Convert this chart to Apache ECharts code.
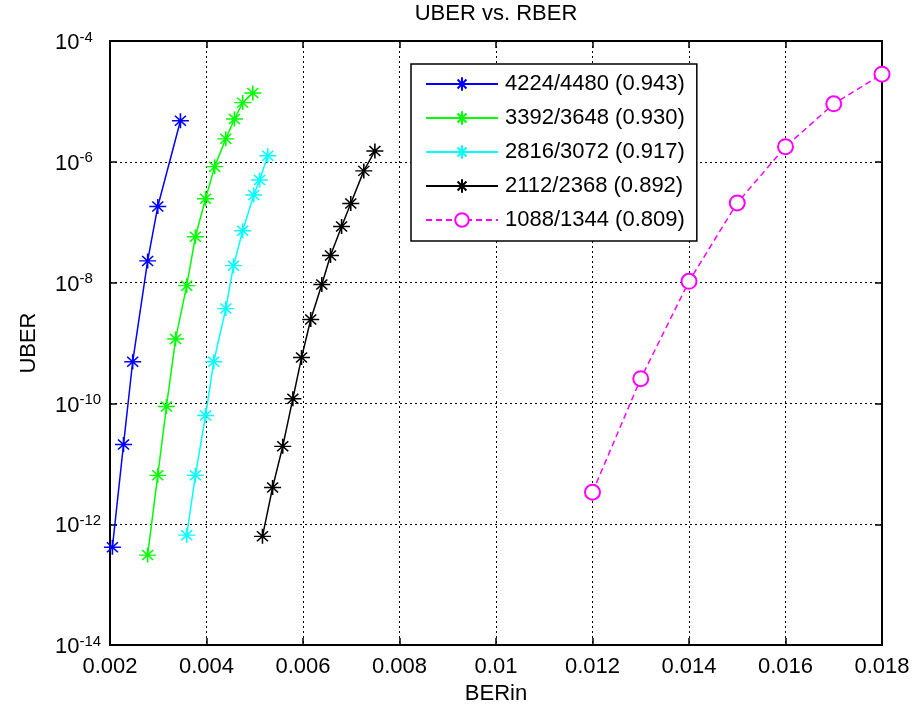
<!DOCTYPE html>
<html>
<head>
<meta charset="utf-8">
<script src="https://cdn.jsdelivr.net/npm/echarts@6/dist/echarts.min.js"></script>
<style>
html,body{margin:0;padding:0;background:#fff;}
#chart{width:914px;height:710px;}
</style>
</head>
<body>
<div id="chart"></div>
<script>
// ---- data ----
const seriesNames = ['4224/4480 (0.943)', '3392/3648 (0.930)', '2816/3072 (0.917)', '2112/2368 (0.892)', '1088/1344 (0.809)'];

const blueX = [0.00205, 0.00228, 0.00247, 0.00278, 0.00299, 0.00346];
const blueY = [4.17e-13, 2.09e-11, 4.9e-10, 2.29e-8, 1.82e-7, 4.79e-6];

const greenX = [0.00278, 0.00299, 0.00317, 0.00336, 0.00359, 0.00377, 0.00398, 0.00417, 0.0044, 0.00458, 0.00475, 0.00496];
const greenY = [3.09e-13, 6.46e-12, 8.91e-11, 1.17e-9, 8.91e-9, 5.75e-8, 2.45e-7, 8.32e-7, 2.4e-6, 5.13e-6, 9.55e-6, 1.38e-5];

const cyanX = [0.00359, 0.00377, 0.00398, 0.00415, 0.0044, 0.00456, 0.00475, 0.00498, 0.0051, 0.00527];
const cyanY = [6.61e-13, 6.46e-12, 6.31e-11, 4.9e-10, 3.72e-9, 1.91e-8, 7.24e-8, 2.82e-7, 5.01e-7, 1.26e-6];

const blackX = [0.00516, 0.00537, 0.00558, 0.00579, 0.00597, 0.00616, 0.00639, 0.00657, 0.0068, 0.00699, 0.00726, 0.00749];
const blackY = [6.31e-13, 4.07e-12, 1.95e-11, 1.2e-10, 5.75e-10, 2.45e-9, 9.33e-9, 2.82e-8, 8.51e-8, 2.04e-7, 7.08e-7, 1.51e-6];

const magentaX = [0.012, 0.013, 0.014, 0.015, 0.016, 0.017, 0.018];
const magentaY = [3.39e-12, 2.57e-10, 1.05e-8, 2.09e-7, 1.78e-6, 9.12e-6, 2.82e-5];

const xTicks = [0.002, 0.004, 0.006, 0.008, 0.01, 0.012, 0.014, 0.016, 0.018];
const yTickExponents = [-14, -12, -10, -8, -6, -4];

// ---- chart ----
const FONT = '"Liberation Sans", Arial, Helvetica, sans-serif';
const ASTERISK = 'path://M0,-7.5L0,7.5M-8.5,0L8.5,0M-5.5,-5L5.5,5M-5.5,5L5.5,-5';

function zip(xs, ys) { return xs.map((x, i) => [x, ys[i]]); }

function starSeries(name, color, xs, ys) {
  return {
    name: name, type: 'line', xAxisIndex: 0, yAxisIndex: 0,
    data: zip(xs, ys),
    symbol: ASTERISK, symbolSize: [17, 15], showSymbol: true,
    itemStyle: { color: color, borderColor: color, borderWidth: 1.5 },
    lineStyle: { color: color, width: 1.5 },
    emphasis: { disabled: true }, animation: false
  };
}

const chart = echarts.init(document.getElementById('chart'), null, { renderer: 'canvas' });

const axisLineStyle = { color: '#000', width: 2 };
const tickCfg = { show: true, inside: true, length: 7, lineStyle: { color: '#000', width: 1.5 } };
const gridLine = { show: true, lineStyle: { color: '#000', width: 1, type: [2, 3] } };

const option = {
  backgroundColor: '#fff',
  animation: false,
  textStyle: { fontFamily: FONT, color: '#000' },
  title: {
    text: 'UBER vs. RBER', left: 496, top: 3, padding: 0, textAlign: 'center',
    textStyle: { fontFamily: FONT, fontSize: 22, fontWeight: 'normal', color: '#000' }
  },
  grid: { left: 110, right: 32, top: 41, bottom: 64, containLabel: false },
  legend: {
    orient: 'vertical', left: 411, top: 64,
    padding: [9, 12, 10, 14],
    itemWidth: 72, itemHeight: 17, itemGap: 12,
    backgroundColor: '#fff', borderColor: '#000', borderWidth: 1.5,
    textStyle: { fontFamily: FONT, fontSize: 22, color: '#000', padding: [0, 0, 0, 2] },
    data: seriesNames
  },
  xAxis: [{
    type: 'value', position: 'bottom',
    min: xTicks[0], max: xTicks[xTicks.length - 1], interval: 0.002,
    name: 'BERin', nameLocation: 'middle', nameGap: 33,
    nameTextStyle: { fontFamily: FONT, fontSize: 22, color: '#000' },
    axisLine: { show: true, lineStyle: axisLineStyle },
    axisTick: tickCfg,
    axisLabel: {
      margin: 11, fontFamily: FONT, fontSize: 22, color: '#000',
      formatter: v => String(+v.toFixed(3))
    },
    splitLine: gridLine
  }, {
    type: 'value', position: 'top',
    min: xTicks[0], max: xTicks[xTicks.length - 1], interval: 0.002,
    axisLine: { show: true, lineStyle: axisLineStyle },
    axisTick: tickCfg, axisLabel: { show: false }, splitLine: { show: false }
  }],
  yAxis: [{
    type: 'log', logBase: 10, position: 'left',
    min: Math.pow(10, yTickExponents[0]), max: Math.pow(10, yTickExponents[yTickExponents.length - 1]), interval: 2,
    name: 'UBER', nameLocation: 'middle', nameGap: 70, nameRotate: 90,
    nameTextStyle: { fontFamily: FONT, fontSize: 22, color: '#000' },
    axisLine: { show: true, lineStyle: axisLineStyle },
    axisTick: tickCfg,
    minorTick: { show: false },
    axisLabel: {
      align: 'left', margin: 55,
      formatter: v => '{b|10}{s|' + Math.round(Math.log10(v)) + '}',
      rich: {
        b: { fontFamily: FONT, fontSize: 22, lineHeight: 22, color: '#000', padding: [10, 0, 6, 0] },
        s: { fontFamily: FONT, fontSize: 15, lineHeight: 15, color: '#000', verticalAlign: 'top' }
      }
    },
    splitLine: gridLine
  }, {
    type: 'log', logBase: 10, position: 'right',
    min: Math.pow(10, yTickExponents[0]), max: Math.pow(10, yTickExponents[yTickExponents.length - 1]), interval: 2,
    axisLine: { show: true, lineStyle: axisLineStyle },
    axisTick: tickCfg, axisLabel: { show: false }, splitLine: { show: false }, minorTick: { show: false }
  }],
  series: [
    starSeries(seriesNames[0], '#0000ff', blueX, blueY),
    starSeries(seriesNames[1], '#00ff00', greenX, greenY),
    starSeries(seriesNames[2], '#00ffff', cyanX, cyanY),
    starSeries(seriesNames[3], '#000000', blackX, blackY),
    {
      name: seriesNames[4], type: 'line', xAxisIndex: 0, yAxisIndex: 0,
      data: zip(magentaX, magentaY),
      symbol: 'emptyCircle', symbolSize: 15, showSymbol: true,
      itemStyle: { color: '#ff00ff', borderColor: '#ff00ff', borderWidth: 1.5 },
      lineStyle: { color: '#ff00ff', width: 1.5, type: [6, 4] },
      emphasis: { disabled: true }, animation: false
    }
  ]
};
chart.setOption(option);
</script>
</body>
</html>
